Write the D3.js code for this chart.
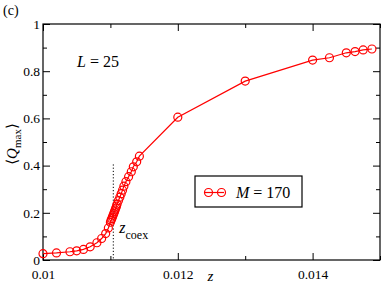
<html>
<head>
<meta charset="utf-8">
<style>
body { margin: 0; background: #fff; }
text { font-family: "Liberation Serif", "DejaVu Serif", serif; }
</style>
</head>
<body>
<script src="https://d3js.org/d3.v7.min.js"></script>
<script>
// data
var zValues = [0.0100, 0.0102, 0.0104, 0.0105, 0.0106, 0.0107, 0.0108, 0.01087, 0.01093, 0.01097,
  0.01100, 0.01101, 0.01102, 0.01103, 0.01104, 0.01105, 0.01106, 0.01107, 0.01108, 0.01109, 0.01110,
  0.01112, 0.01114, 0.01116, 0.01118, 0.01120, 0.01123, 0.01127, 0.01131, 0.01134, 0.01139, 0.01143,
  0.0120, 0.0130, 0.0140, 0.01425, 0.0145, 0.01463, 0.01475, 0.01488];
var qMax = [0.027, 0.030, 0.035, 0.039, 0.045, 0.056, 0.073, 0.091, 0.112, 0.136,
  0.160, 0.168, 0.175, 0.182, 0.190, 0.197, 0.204, 0.212, 0.220, 0.228, 0.237,
  0.252, 0.266, 0.281, 0.296, 0.313, 0.332, 0.353, 0.374, 0.395, 0.416, 0.440,
  0.605, 0.758, 0.847, 0.857, 0.878, 0.883, 0.890, 0.894];
var xMajor = [0.010, 0.012, 0.014];
var xMinor = [0.011, 0.013, 0.015];
var yMajor = [0, 0.2, 0.4, 0.6, 0.8, 1];
var yMinor = [0.1, 0.3, 0.5, 0.7, 0.9];
var zCoex = 0.011043;

var W = 382, H = 286;
var margin = {top: 24, right: 2, bottom: 26, left: 43};
var width = W - margin.left - margin.right,
    height = H - margin.top - margin.bottom;

var x = d3.scaleLinear().domain([0.010, 0.015]).range([0, width]);
var y = d3.scaleLinear().domain([0, 1]).range([height, 0]);

var svg = d3.select("body").append("svg")
  .attr("width", W).attr("height", H);
var g = svg.append("g")
  .attr("transform", "translate(" + margin.left + "," + margin.top + ")");

var fmt = function(d) { return d === 0 ? "0" : d === 1 ? "1" : String(+d.toFixed(3)); };

// axes: bottom/left labelled, top/right ticks only
function axisPair(axisFn, scale, vals, len, labels) {
  return axisFn(scale).tickValues(vals).tickSizeInner(-len).tickSizeOuter(0)
    .tickPadding(len + 4).tickFormat(labels ? fmt : "");
}
function drawAxis(sel) {
  sel.attr("font-family", null);
  sel.select(".domain").remove();
  sel.selectAll("line").attr("stroke", "#000");
  sel.selectAll("text").style("font-size", "13.5px")
    .style("font-family", "'Liberation Serif', serif").attr("fill", "#000");
}
g.append("g").attr("transform", "translate(0," + height + ")")
  .call(axisPair(d3.axisBottom, x, xMajor, 7, true)).call(drawAxis)
  .selectAll("text").attr("dy", "0.62em");
g.append("g").attr("transform", "translate(0," + height + ")")
  .call(axisPair(d3.axisBottom, x, xMinor, 4, false)).call(drawAxis);
g.append("g").call(axisPair(d3.axisTop, x, xMajor, 7, false)).call(drawAxis);
g.append("g").call(axisPair(d3.axisTop, x, xMinor, 4, false)).call(drawAxis);

g.append("g").call(axisPair(d3.axisLeft, y, yMajor, 7, true)).call(drawAxis)
  .selectAll("text").attr("x", -3);
g.append("g").call(axisPair(d3.axisLeft, y, yMinor, 4, false)).call(drawAxis);
g.append("g").attr("transform", "translate(" + width + ",0)")
  .call(axisPair(d3.axisRight, y, yMajor, 7, false)).call(drawAxis);
g.append("g").attr("transform", "translate(" + width + ",0)")
  .call(axisPair(d3.axisRight, y, yMinor, 4, false)).call(drawAxis);

// frame
g.append("rect").attr("width", width).attr("height", height)
  .attr("fill", "none").attr("stroke", "#000").attr("stroke-width", 1.2);

// z_coex dotted line
g.append("line")
  .attr("x1", x(zCoex)).attr("x2", x(zCoex))
  .attr("y1", y(0.405)).attr("y2", height)
  .attr("stroke", "#000").attr("stroke-dasharray", "1.2,2");

var coex = g.append("text").attr("x", x(zCoex) + 6).attr("y", y(0.115))
  .style("font-size", "16px");
coex.append("tspan").style("font-style", "italic").text("z");
coex.append("tspan").attr("dy", 6).style("font-size", "12px").text("coex");

// data line and markers
var data = zValues.map(function(z, i) { return {z: z, q: qMax[i]}; });
var line = d3.line().x(function(d) { return x(d.z); }).y(function(d) { return y(d.q); });
g.append("path").datum(data).attr("d", line)
  .attr("fill", "none").attr("stroke", "#ff0000").attr("stroke-width", 1.2);
g.selectAll("circle.pt").data(data).enter().append("circle")
  .attr("class", "pt")
  .attr("cx", function(d) { return x(d.z); })
  .attr("cy", function(d) { return y(d.q); })
  .attr("r", 4).attr("fill", "none").attr("stroke", "#ff0000").attr("stroke-width", 1.2);

// legend
var leg = g.append("g").attr("transform", "translate(" + (195 - margin.left) + "," + (176 - margin.top) + ")");
leg.append("rect").attr("width", 107).attr("height", 31)
  .attr("fill", "#fff").attr("stroke", "#000").attr("stroke-width", 1.2);
leg.append("line").attr("x1", 10).attr("x2", 29).attr("y1", 16.5).attr("y2", 16.5)
  .attr("stroke", "#ff0000").attr("stroke-width", 1.2);
[13.5, 26.5].forEach(function(cx) {
  leg.append("circle").attr("cx", cx).attr("cy", 16.5).attr("r", 4)
    .attr("fill", "none").attr("stroke", "#ff0000").attr("stroke-width", 1.2);
});
var lt = leg.append("text").attr("x", 41).attr("y", 22).style("font-size", "16px");
lt.append("tspan").style("font-style", "italic").text("M");
lt.append("tspan").text(" = 170");

// L = 25
var lbl = svg.append("text").attr("x", 77).attr("y", 67).style("font-size", "16px");
lbl.append("tspan").style("font-style", "italic").text("L");
lbl.append("tspan").text(" = 25");

// panel tag
svg.append("text").attr("x", 3).attr("y", 15).style("font-size", "14px").text("(c)");

// axis titles
svg.append("text").attr("x", margin.left + width / 2 - 1).attr("y", 281)
  .attr("text-anchor", "middle").style("font-size", "15px").style("font-style", "italic").text("z");

var yl = svg.append("text")
  .attr("transform", "translate(17," + (margin.top + height / 2 + 2) + ") rotate(-90)")
  .attr("text-anchor", "middle").style("font-size", "15px");
yl.append("tspan").text("\u27E8");
yl.append("tspan").style("font-style", "italic").text("Q");
yl.append("tspan").attr("dy", 4).style("font-size", "11px").text("max");
yl.append("tspan").attr("dy", -4).text("\u27E9");
</script>
</body>
</html>
